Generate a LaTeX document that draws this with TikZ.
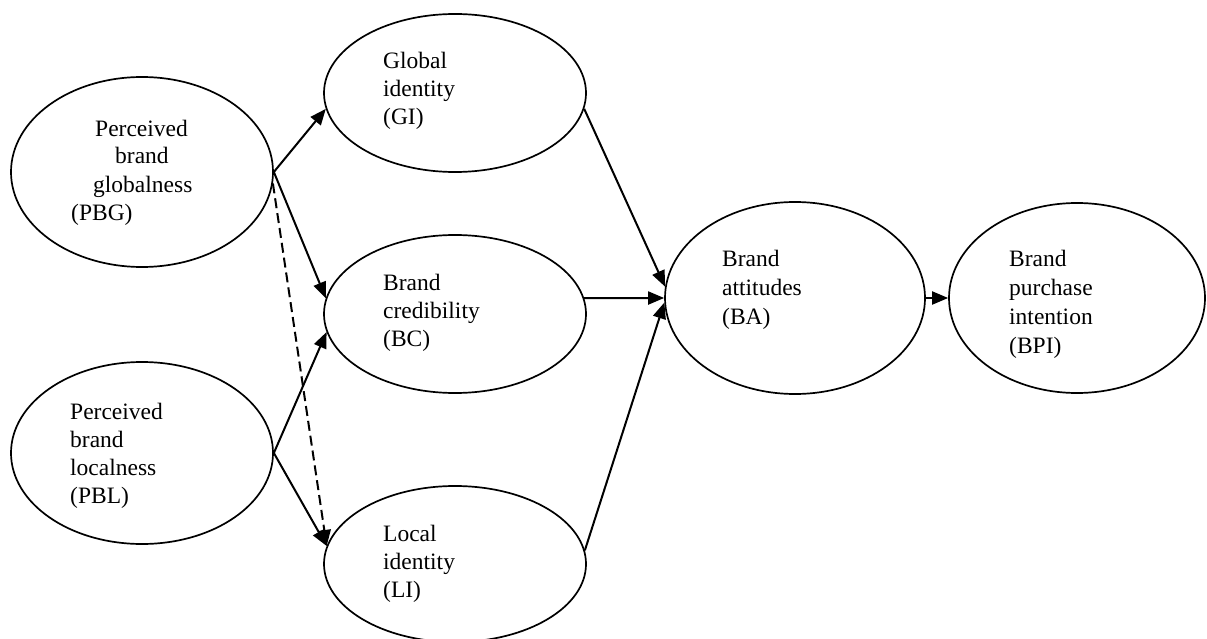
\documentclass[tikz,border=0pt]{standalone}
\usepackage{fontspec}
\setmainfont{Liberation Serif}
\usetikzlibrary{shapes.geometric,arrows.meta}
\begin{document}
\begin{tikzpicture}[x=1pt,y=-1pt,
  ell/.style={ellipse,draw,line width=1.7pt,inner sep=0pt},
  lbl/.style={align=left,anchor=base west,inner sep=0pt,font=\fontsize{23.5}{28}\selectfont},
  arr/.style={line width=2pt,-{Triangle[length=16pt,width=13pt]}},
  dsh/.style={dash pattern=on 10pt off 5pt}
]
\useasboundingbox (0,0) rectangle (1207,639);
% ellipses
\node[ell,minimum width=262pt,minimum height=190pt] (PBG) at (142,172) {};
\node[ell,minimum width=262pt,minimum height=182pt] (PBL) at (142,453) {};
\node[ell,minimum width=262pt,minimum height=158pt] (GI) at (455,93) {};
\node[ell,minimum width=262pt,minimum height=158pt] (BC) at (455,314) {};
\node[ell,minimum width=262pt,minimum height=156pt] (LI) at (455,564) {};
\node[ell,minimum width=260pt,minimum height=192pt] (BA) at (795,298) {};
\node[ell,minimum width=256pt,minimum height=190pt] (BPI) at (1077,298) {};
% labels (anchor at baseline of last line)
\node[lbl] (PBGt) at (71,220) {\hspace*{24pt}Perceived\\\hspace*{44pt}brand\\\hspace*{22pt}globalness\\(PBG)};
\node[lbl] (PBLt) at (70,503) {Perceived\\brand\\localness\\(PBL)};
\node[lbl] (GIt) at (383,125) {Global\\identity\\(GI)};
\node[lbl] (BCt) at (383,346) {Brand\\credibility\\(BC)};
\node[lbl] (LIt) at (383,597) {Local\\identity\\(LI)};
\node[lbl,font=\fontsize{23.5}{29}\selectfont] (BAt) at (722,324) {Brand\\attitudes\\(BA)};
\node[lbl,font=\fontsize{23.5}{29}\selectfont] (BPIt) at (1009,353) {Brand\\purchase\\intention\\(BPI)};
% connectors
\draw[arr] (PBG.east) -- (GI.187);
\draw[arr] (PBG.east) -- (BC.173);
\draw[arr,dsh] (PBG.-5) -- (LI.172);
\draw[arr] (PBL.east) -- (BC.188);
\draw[arr] (PBL.east) -- (LI.172);
\draw[arr] (GI.-7) -- (BA.175);
\draw[arr] (BC.7) -- (BA.180);
\draw[arr] (LI.6) -- (BA.182);
\draw[arr] (BA.east) -- (BPI.west);
\end{tikzpicture}
\end{document}
